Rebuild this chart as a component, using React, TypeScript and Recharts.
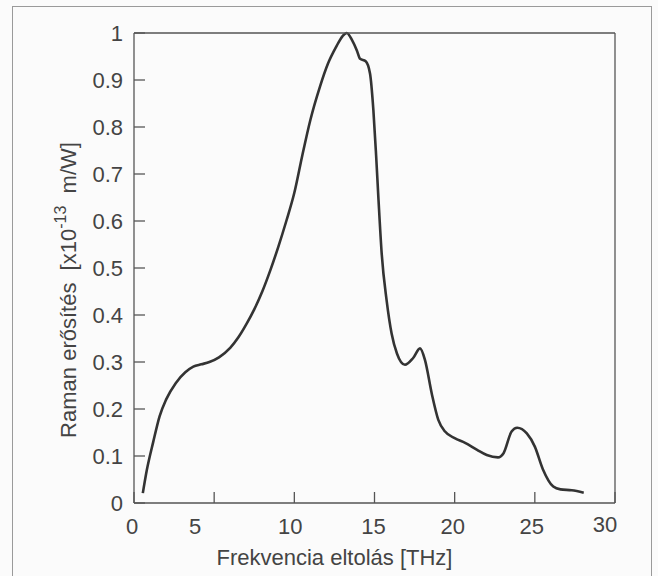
import { LineChart, Line, XAxis, YAxis } from "recharts";

// Raman gain curve
const freq = [
  0.55, 0.8, 1.2, 1.6, 2.0, 2.6, 3.2, 3.7, 4.2, 4.7, 5.3, 6.0, 6.5, 7.0, 7.5, 8.0, 8.5, 9.0, 9.5,
  10.0, 10.5, 11.0, 11.6, 12.1, 12.6, 13.0, 13.27, 13.6, 13.9, 14.1, 14.45, 14.72, 14.93, 15.1,
  15.25, 15.45, 15.76, 16.07, 16.4, 16.9, 17.4, 17.84, 18.15, 18.57, 18.98, 19.4, 20.0, 20.65,
  21.4, 22.0, 22.7, 23.05, 23.55, 23.9, 24.5, 25.0, 25.5, 26.15, 26.6, 27.3, 28.05,
];
const gain = [
  0.021, 0.07, 0.13, 0.185, 0.22, 0.255, 0.278, 0.29, 0.295, 0.3, 0.31, 0.33, 0.352, 0.38, 0.412,
  0.45, 0.495, 0.545, 0.6, 0.66, 0.74, 0.815, 0.886, 0.935, 0.97, 0.993, 1.0, 0.985, 0.963, 0.945,
  0.94, 0.914, 0.836, 0.74, 0.645, 0.53, 0.43, 0.36, 0.318, 0.294, 0.308, 0.329, 0.304, 0.233,
  0.177, 0.152, 0.138, 0.128, 0.113, 0.102, 0.097, 0.106, 0.152, 0.16, 0.148, 0.12, 0.072, 0.035,
  0.029, 0.027, 0.022,
];
const xTicks = [0, 5, 10, 15, 20, 25, 30];
const yTicks = [0, 0.1, 0.2, 0.3, 0.4, 0.5, 0.6, 0.7, 0.8, 0.9, 1];

const chartData = freq.map((f, i) => ({ f, g: gain[i] }));

const FONT = "'Liberation Sans', Arial, Helvetica, sans-serif";
const AXIS = "#555";
const TXT = "#444";

// the scanned labels are not quite centred under their ticks
const xNudge: Record<number, [number, number]> = {
  0: [-2, 0],
  5: [-19, 0],
  10: [-4, 0],
  15: [-1, 0],
  20: [-2, 0],
  25: [-3, 0],
  30: [-10, -2],
};

const XTick = (props: any) => {
  const { x, y, payload } = props;
  const [dx, dy] = xNudge[payload.value] || [0, 0];
  return (
    <text x={x + dx} y={y + dy} dy="0.71em" textAnchor="middle" fontSize={22} fontFamily={FONT} fill={TXT}>
      {payload.value}
    </text>
  );
};

const XTitle = (props: any) => {
  const vb = props.viewBox;
  return (
    <text x={vb.x + vb.width / 2 - 40} y={565} textAnchor="middle" fontSize={22} fontFamily={FONT} fill={TXT}>
      Frekvencia eltolás [THz]
    </text>
  );
};

const YTitle = (props: any) => {
  const vb = props.viewBox;
  const x = vb.x + 76;
  const y = vb.y + vb.height / 2 + 22;
  return (
    <text
      x={x}
      y={y}
      transform={`rotate(-90, ${x}, ${y})`}
      textAnchor="middle"
      fontSize={22}
      fontFamily={FONT}
      fill={TXT}
      style={{ whiteSpace: "pre" }}
    >
      <tspan>{"Raman erősítés  [x10"}</tspan>
      <tspan dy={-10} fontSize={16}>{"-13"}</tspan>
      <tspan dy={10}>{"  m/W]"}</tspan>
    </text>
  );
};

const App = () => {
  return (
    <div style={{ position: "absolute", left: 0, top: 0, width: 658, height: 576, background: "#fbfbfb", overflow: "hidden" }}>
      <div
        style={{
          position: "absolute",
          left: 12,
          top: 6,
          width: 640,
          height: 620,
          border: "1.5px solid #9a9a9a",
          boxSizing: "border-box",
        }}
      />
      <div style={{ position: "absolute", left: 0, top: 0 }}>
        <LineChart width={658} height={576} data={chartData} margin={{ top: 0, right: 0, bottom: 0, left: 0 }}>
          <XAxis
            dataKey="f"
            type="number"
            domain={[0, 30]}
            ticks={xTicks}
            height={73}
            stroke={AXIS}
            strokeWidth={1.3}
            tickSize={-11}
            tickMargin={26}
            tick={<XTick />}
            label={<XTitle />}
          />
          <XAxis
            xAxisId="top"
            dataKey="f"
            type="number"
            orientation="top"
            domain={[0, 30]}
            ticks={xTicks}
            height={33}
            stroke={AXIS}
            strokeWidth={1.3}
            tickSize={-11}
            tick={false}
          />
          <YAxis
            type="number"
            domain={[0, 1]}
            ticks={yTicks}
            width={134}
            stroke={AXIS}
            strokeWidth={1.3}
            tickSize={-11}
            tickMargin={22}
            tick={{ fontSize: 22, fontFamily: FONT, fill: TXT }}
            label={<YTitle />}
          />
          <YAxis
            yAxisId="right"
            type="number"
            orientation="right"
            domain={[0, 1]}
            ticks={yTicks}
            width={43}
            stroke={AXIS}
            strokeWidth={1.3}
            tickSize={-11}
            tick={false}
          />
          <Line
            type="monotone"
            dataKey="g"
            stroke="#333"
            strokeWidth={2.6}
            dot={false}
            isAnimationActive={false}
          />
        </LineChart>
      </div>
    </div>
  );
};

export default App;
